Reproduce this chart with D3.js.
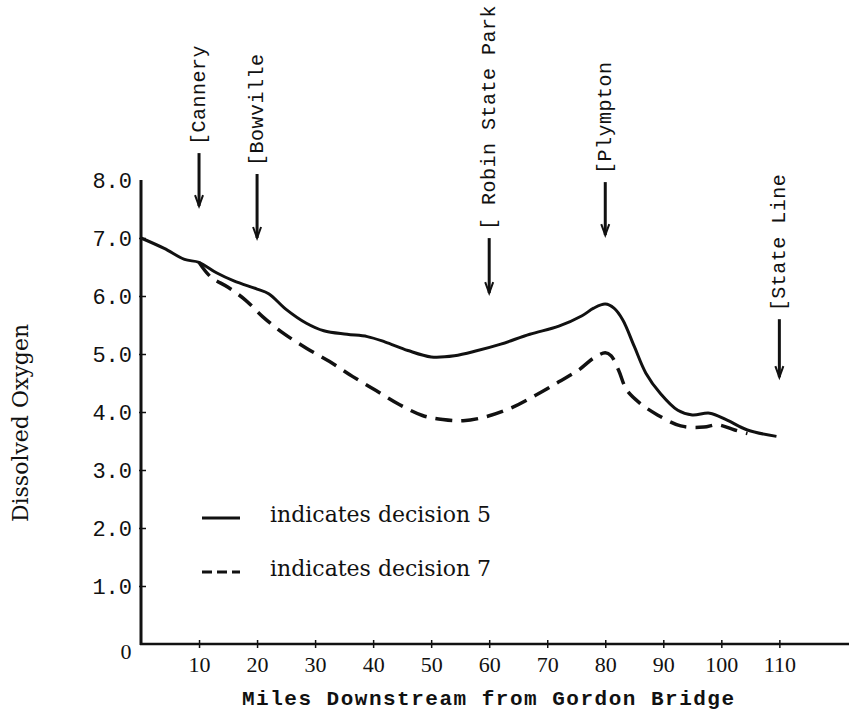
<!DOCTYPE html>
<html>
<head>
<meta charset="utf-8">
<script src="https://cdn.jsdelivr.net/npm/d3@7"></script>
<style>
    body { margin: 0; background: #fff; }
    svg { display: block; }
</style>
</head>
<body>
<div id="chart"></div>
<script>
// miles downstream / dissolved oxygen
const miles5 = [0, 4, 7.5, 10, 13, 16, 20, 22, 25, 28.5, 31.5, 35.5, 39, 42, 46, 50, 54, 58, 62, 67, 72, 76, 78, 80, 81.5, 83, 85, 87, 89.5, 92.5, 95, 98, 101, 104.5, 109.5];
const oxygen5 = [7.0, 6.82, 6.63, 6.58, 6.4, 6.26, 6.12, 6.04, 5.77, 5.53, 5.4, 5.34, 5.3, 5.21, 5.06, 4.95, 4.97, 5.06, 5.17, 5.34, 5.48, 5.66, 5.79, 5.86, 5.79, 5.59, 5.13, 4.67, 4.32, 4.03, 3.95, 3.98, 3.86, 3.69, 3.58];

const miles7 = [10, 12, 15, 18, 21, 24.5, 28.5, 32.5, 36.5, 40.5, 44.5, 48.5, 52, 55.5, 59.5, 64, 68, 72, 75.5, 78, 80, 81, 82.3, 83.7, 86, 89, 93, 97, 99.3, 102.3, 104.5];
const oxygen7 = [6.58, 6.33, 6.15, 5.93, 5.64, 5.36, 5.1, 4.87, 4.61, 4.37, 4.13, 3.94, 3.87, 3.85, 3.92, 4.08, 4.29, 4.52, 4.73, 4.93, 5.02, 4.97, 4.72, 4.38, 4.15, 3.95, 3.76, 3.74, 3.78, 3.69, 3.63];

const placeNames = ["[Cannery", "[Bowville", "[ Robin State Park", "[Plympton", "[State Line"];
const placeMiles = [10, 20, 60, 80, 110];

const xTicks = [10, 20, 30, 40, 50, 60, 70, 80, 90, 100, 110];
const yTicks = [1, 2, 3, 4, 5, 6, 7, 8];

const legendLabels = ["indicates decision 5", "indicates decision 7"];

const width = 849, height = 713;

const svg = d3.select("#chart")
    .append("svg")
    .attr("width", width)
    .attr("height", height);

const x = d3.scaleLinear().domain([0, 122]).range([141, 849]);
const y = d3.scaleLinear().domain([0, 8]).range([644, 180]);

const ink = "#111";

// y axis
const yAxis = svg.append("g")
    .attr("transform", `translate(${x(0)},0)`)
    .call(d3.axisLeft(y).tickValues(yTicks).tickSize(-5).tickPadding(9).tickFormat(d3.format(".1f")));
yAxis.select(".domain").remove();
yAxis.selectAll(".tick line").attr("x1", -2).attr("stroke", ink).attr("stroke-width", 1.5)
    .filter((d) => d === 8).remove();
yAxis.selectAll(".tick text")
    .attr("fill", ink)
    .attr("dy", "0.35em")
    .style("font-family", "'Liberation Mono', monospace")
    .style("font-size", "22px");

svg.append("line")
    .attr("x1", x(0)).attr("x2", x(0))
    .attr("y1", y(8)).attr("y2", y(0) + 1)
    .attr("stroke", ink).attr("stroke-width", 3);

// x axis
const xAxis = svg.append("g")
    .attr("transform", `translate(0,${y(0)})`)
    .call(d3.axisBottom(x).tickValues(xTicks).tickSize(4).tickPadding(8));
xAxis.select(".domain").remove();
xAxis.selectAll(".tick line").attr("y1", -4).attr("stroke", ink).attr("stroke-width", 1.5);
xAxis.selectAll(".tick text")
    .attr("fill", ink)
    .style("font-family", "'Liberation Serif', serif")
    .style("font-size", "22px");

svg.append("line")
    .attr("x1", x(0) - 1).attr("x2", x.range()[1])
    .attr("y1", y(0)).attr("y2", y(0))
    .attr("stroke", ink).attr("stroke-width", 2.5);

svg.append("text")
    .attr("x", x(0) - 15)
    .attr("y", y(0) + 15)
    .attr("text-anchor", "middle")
    .attr("fill", ink)
    .style("font-family", "'Liberation Serif', serif")
    .style("font-size", "22px")
    .text("0");

// axis titles
svg.append("text")
    .attr("x", 242)
    .attr("y", 705)
    .attr("fill", ink)
    .style("font-family", "'Liberation Mono', monospace")
    .style("font-weight", "bold")
    .style("font-size", "21px")
    .style("letter-spacing", "1.5px")
    .text("Miles Downstream from Gordon Bridge");

svg.append("text")
    .attr("transform", "translate(28,423) rotate(-90)")
    .attr("text-anchor", "middle")
    .attr("fill", ink)
    .style("font-family", "'DejaVu Serif', serif")
    .style("font-size", "22px")
    .text("Dissolved Oxygen");

// curves
const line = d3.line()
    .x((d) => x(d[0]))
    .y((d) => y(d[1]))
    .curve(d3.curveCatmullRom.alpha(0.5));

const series5 = miles5.map((m, i) => [m, oxygen5[i]]);
const series7 = miles7.map((m, i) => [m, oxygen7[i]]);

svg.append("path")
    .datum(series7)
    .attr("d", line)
    .attr("fill", "none")
    .attr("stroke", ink)
    .attr("stroke-width", 3.5)
    .attr("stroke-dasharray", "17,9");

svg.append("path")
    .datum(series5)
    .attr("d", line)
    .attr("fill", "none")
    .attr("stroke", ink)
    .attr("stroke-width", 3);

// place markers: tip of arrow (in oxygen units) and arrow length
const markerTip = [7.55, 7.0, 6.05, 7.05, 4.6];
const markerLen = [53, 64, 55, 53, 58];

placeNames.forEach((name, i) => {
    const mx = x(placeMiles[i]);
    const tip = y(markerTip[i]);
    const top = tip - markerLen[i];

    svg.append("line")
        .attr("x1", mx).attr("x2", mx)
        .attr("y1", top).attr("y2", tip)
        .attr("stroke", ink).attr("stroke-width", 3);

    svg.append("path")
        .attr("d", `M${mx - 4},${tip - 11} L${mx},${tip} L${mx + 4},${tip - 11}`)
        .attr("fill", "none")
        .attr("stroke", ink)
        .attr("stroke-width", 2);

    svg.append("text")
        .attr("transform", `translate(${mx + 6},${top - 8}) rotate(-90)`)
        .attr("fill", ink)
        .style("font-family", "'Liberation Mono', monospace")
        .style("font-size", "20px")
        .style("letter-spacing", "0.5px")
        .text(name);
});

// legend
const legend = svg.append("g").attr("transform", "translate(202,0)");
const legendY = [518, 572];
const legendDash = [null, "10,5"];

legendLabels.forEach((label, i) => {
    legend.append("line")
        .attr("x1", 0).attr("x2", 38)
        .attr("y1", legendY[i]).attr("y2", legendY[i])
        .attr("stroke", ink)
        .attr("stroke-width", 3)
        .attr("stroke-dasharray", legendDash[i]);

    legend.append("text")
        .attr("x", 68)
        .attr("y", legendY[i] + 4)
        .attr("fill", ink)
        .style("font-family", "'DejaVu Serif', serif")
        .style("font-size", "22px")
        .text(label);
});
</script>
</body>
</html>
